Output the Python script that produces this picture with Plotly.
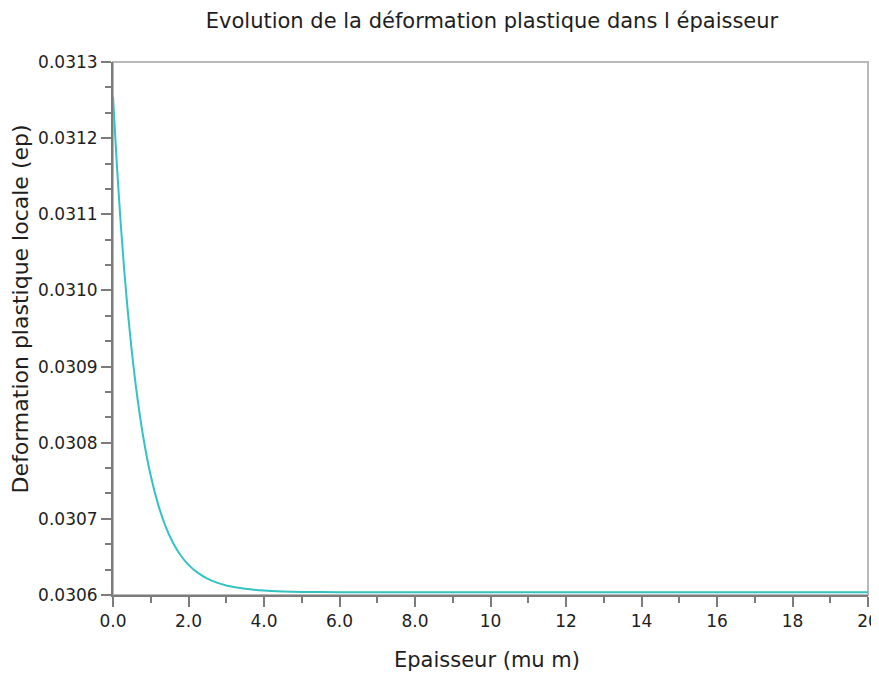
import plotly.graph_objects as go

# Values
epaisseur = [0.0, 0.1, 0.2, 0.3, 0.4, 0.5, 0.6, 0.8, 1.0, 1.2, 1.4, 1.6, 1.8, 2.0, 2.25, 2.5,
             2.75, 3.0, 3.5, 4.0, 4.5, 5.0, 6.0, 8.0, 10.0, 12.0, 14.0, 16.0, 18.0, 20.0]
deformation = [0.0312546, 0.0311668, 0.0310908, 0.0310251, 0.0309682, 0.0309190, 0.0308764,
               0.0308078, 0.0307565, 0.0307180, 0.0306892, 0.0306677, 0.0306515, 0.0306395,
               0.0306290, 0.0306215, 0.0306163, 0.0306126, 0.0306081, 0.0306058, 0.0306047,
               0.0306041, 0.0306037, 0.0306036, 0.0306036, 0.0306036, 0.0306036, 0.0306036,
               0.0306036, 0.0306036]

x_tickvals = [0, 2, 4, 6, 8, 10, 12, 14, 16, 18, 20]
x_ticktext = ["0.0", "2.0", "4.0", "6.0", "8.0", "10", "12", "14", "16", "18", "20"]
y_tickvals = [0.0306, 0.0307, 0.0308, 0.0309, 0.0310, 0.0311, 0.0312, 0.0313]
y_ticktext = ["0.0306", "0.0307", "0.0308", "0.0309", "0.0310", "0.0311", "0.0312", "0.0313"]

font_family = "DejaVu Sans, Liberation Sans, sans-serif"
txt = "#1E1E1E"
axc = "#7C7C7C"

fig = go.Figure()
fig.add_trace(go.Scatter(
    x=epaisseur, y=deformation, mode="lines",
    line=dict(color="#33C3C3", width=2, shape="spline", smoothing=0.5),
    showlegend=False, hoverinfo="x+y",
))

# frame (top and right, lighter)
fig.add_shape(type="rect", xref="paper", yref="paper", x0=0, y0=0, x1=1, y1=1,
              line=dict(color="#B9B9B9", width=2), layer="below")

# axis titles
fig.add_annotation(text="Epaisseur (mu m)", xref="paper", yref="paper",
                   x=0.496, y=-0.122, xanchor="center", yanchor="middle",
                   showarrow=False, font=dict(size=21, color=txt))
fig.add_annotation(text="Deformation plastique locale (ep)", xref="paper", yref="paper",
                   x=-0.1219, y=0.5375, xanchor="center", yanchor="middle", textangle=-90,
                   showarrow=False, font=dict(size=22, color=txt))

fig.update_layout(
    width=871, height=666,
    margin=dict(l=105, r=11, t=54, b=79),
    paper_bgcolor="white", plot_bgcolor="white",
    font=dict(family=font_family, color=txt),
    title=dict(text="Evolution de la déformation plastique dans l épaisseur",
               x=484 / 871, xanchor="center", yref="container", y=1 - 13 / 666, yanchor="middle",
               font=dict(size=21, color=txt)),
    xaxis=dict(
        range=[0, 20], showgrid=False, zeroline=False, automargin=False,
        showline=True, linecolor=axc, linewidth=2,
        ticks="outside", ticklen=10, tickwidth=2, tickcolor=axc,
        tickvals=x_tickvals, ticktext=x_ticktext, ticklabeloverflow="allow",
        tickfont=dict(size=17, color=txt),
        minor=dict(dtick=1, tick0=0, ticks="outside", ticklen=6, tickcolor=axc, tickwidth=1.5),
    ),
    yaxis=dict(
        range=[0.0306, 0.0313], showgrid=False, zeroline=False, automargin=False,
        showline=True, linecolor=axc, linewidth=2,
        ticks="outside", ticklen=10, tickwidth=2, tickcolor=axc,
        tickvals=y_tickvals, ticktext=y_ticktext, ticklabeloverflow="allow",
        tickfont=dict(size=17, color=txt),
        minor=dict(dtick=0.0001 / 3, tick0=0.0306, ticks="outside", ticklen=6, tickcolor=axc, tickwidth=1.5),
    ),
)

fig.write_html("out.html")
